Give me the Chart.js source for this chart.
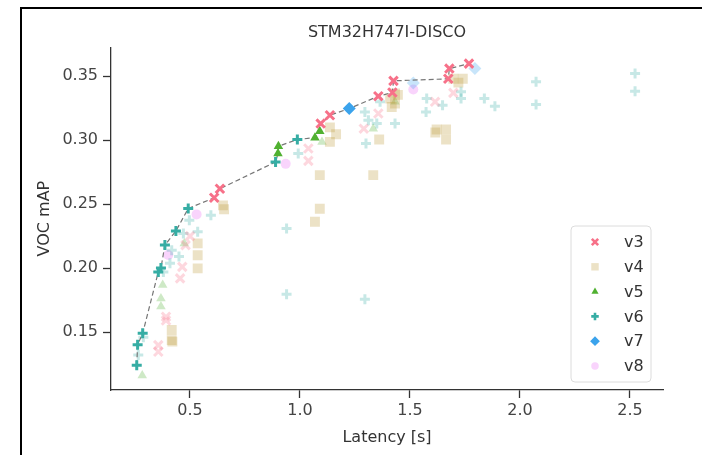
<!DOCTYPE html>
<html>
<head>
<meta charset="utf-8">
<script src="https://cdn.jsdelivr.net/npm/chart.js@4.4.1/dist/chart.umd.min.js"></script>
<style>
  html, body { margin: 0; padding: 0; background: #fff; }
  body { width: 702px; height: 455px; position: relative; overflow: hidden; }
  .frame { position: absolute; left: 20px; top: 7px; width: 760px; height: 520px; border: 2px solid #000; }
  #chart { position: absolute; left: 0; top: 0; }
</style>
</head>
<body>
<div class="frame"></div>
<canvas id="chart" width="702" height="455"></canvas>
<script>
const versions = ['v3', 'v4', 'v5', 'v6', 'v7', 'v8'];
const colors = ['#f77189', '#bb9832', '#50b131', '#36ada4', '#3ba3ec', '#e866f4'];
const markers = ['crossRot', 'rect', 'triangle', 'cross', 'rectRot', 'circle'];

// latency [s] / VOC mAP per model family
const v3Latency = [0.61, 0.636, 1.094, 1.136, 1.356, 1.42, 1.425, 1.679, 1.768,
  0.356, 0.356, 0.391, 0.391, 0.455, 0.465, 0.5, 0.48, 1.038, 1.038, 1.356, 1.29, 1.614, 1.697, 1.674];
const v3Map = [0.255, 0.262, 0.313, 0.3195, 0.3344, 0.3373, 0.3464, 0.356, 0.3599,
  0.1398, 0.1346, 0.162, 0.159, 0.192, 0.201, 0.225, 0.218, 0.2935, 0.2838, 0.3209, 0.309, 0.33, 0.337, 0.348];

const v4Latency = [0.417, 0.417, 0.42, 0.535, 0.535, 0.535, 0.65, 0.655, 1.136, 1.164, 1.136, 1.09, 1.09, 1.068,
  1.333, 1.36, 1.432, 1.432, 1.41, 1.445, 1.417, 1.621, 1.615, 1.664, 1.664, 1.697, 1.74, 1.72];
const v4Map = [0.1516, 0.1437, 0.1425, 0.2193, 0.21, 0.1998, 0.249, 0.246, 0.31, 0.3047, 0.2987, 0.2727, 0.2464, 0.2362,
  0.2727, 0.3005, 0.3365, 0.3287, 0.3326, 0.3354, 0.326, 0.3084, 0.306, 0.3084, 0.3005, 0.348, 0.348, 0.345];

const v5Latency = [0.9, 0.902, 1.068, 1.09, 0.283, 0.376, 0.368, 0.368, 0.474, 1.333, 1.432, 1.1];
const v5Map = [0.2896, 0.2953, 0.302, 0.307, 0.116, 0.1867, 0.1763, 0.17, 0.2193, 0.309, 0.33, 0.2985];

const v6Latency = [0.258, 0.262, 0.285, 0.356, 0.368, 0.386, 0.436, 0.492, 0.889, 0.988,
  0.265, 0.288, 0.379, 0.409, 0.45, 0.497, 0.535, 0.595, 0.47, 0.417, 0.939, 0.939, 1.295, 0.992,
  1.295, 1.311, 1.349, 1.3, 1.364, 1.432, 1.576, 1.573, 1.648, 1.732, 1.732, 1.838, 1.886,
  2.073, 2.073, 2.523, 2.523];
const v6Map = [0.124, 0.14, 0.149, 0.197, 0.2, 0.218, 0.229, 0.2466, 0.283, 0.3005,
  0.132, 0.146, 0.197, 0.2037, 0.209, 0.2375, 0.2284, 0.2414, 0.227, 0.214, 0.231, 0.1795, 0.1756, 0.2896,
  0.3221, 0.3156, 0.313, 0.2974, 0.33, 0.313, 0.3326, 0.3221, 0.3273, 0.3378, 0.3326, 0.3326, 0.3266,
  0.3456, 0.3279, 0.3521, 0.3383];

const v7Latency = [1.224, 1.515, 1.795];
const v7Map = [0.3247, 0.3448, 0.356];

const v8Latency = [0.401, 0.53, 0.935, 1.515];
const v8Map = [0.2102, 0.242, 0.2815, 0.3396];

const xTicks = [0.5, 1.0, 1.5, 2.0, 2.5];
const yTicks = [0.15, 0.20, 0.25, 0.30, 0.35];

const latencies = [v3Latency, v4Latency, v5Latency, v6Latency, v7Latency, v8Latency];
const maps = [v3Map, v4Map, v5Map, v6Map, v7Map, v8Map];

const FONT = '"DejaVu Sans", sans-serif';
const FADE = 0.28;

function rgba(hex, a) {
  const n = parseInt(hex.slice(1), 16);
  return `rgba(${n >> 16}, ${(n >> 8) & 255}, ${n & 255}, ${a})`;
}

// pareto front: points that beat every faster model
const allPts = [];
latencies.forEach((lat, s) => lat.forEach((x, j) => allPts.push({ x, y: maps[s][j], s })));
allPts.sort((a, b) => a.x - b.x || b.y - a.y);
let best = -Infinity;
const front = [];
allPts.forEach(p => {
  if (p.y > best) { best = p.y; p.front = true; front.push(p); }
});
const hasFront = versions.map((v, i) => front.some(p => p.s === i));

function markerStyle(i, alpha, scale) {
  const c = rgba(colors[i], alpha);
  const stroked = markers[i] === 'crossRot' || markers[i] === 'cross';
  const radius = { crossRot: 6, rect: 7, triangle: 5.5, cross: 5, rectRot: 6.5, circle: 5 }[markers[i]];
  return {
    pointStyle: markers[i],
    radius: radius * scale,
    backgroundColor: c,
    borderColor: stroked ? c : 'rgba(0,0,0,0)',
    borderWidth: stroked ? 3 * Math.sqrt(scale) : 0
  };
}

function pointSet(i, onFront) {
  const st = markerStyle(i, onFront ? 1 : FADE, 1);
  return {
    label: versions[i],
    data: allPts.filter(p => p.s === i && !!p.front === onFront).map(p => ({ x: p.x, y: p.y })),
    pointStyle: st.pointStyle,
    pointRadius: st.radius,
    pointBackgroundColor: st.backgroundColor,
    pointBorderColor: st.borderColor,
    pointBorderWidth: st.borderWidth,
    showLine: false,
    order: onFront ? 1 : 3
  };
}

const datasets = [];
versions.forEach((v, i) => datasets.push(pointSet(i, false)));
datasets.push({
  label: 'front',
  data: front.map(p => ({ x: p.x, y: p.y })),
  showLine: true,
  borderColor: '#777',
  borderWidth: 1.2,
  borderDash: [5, 3],
  pointRadius: 0,
  order: 2
});
versions.forEach((v, i) => datasets.push(pointSet(i, true)));

const legendBox = {
  id: 'legendBox',
  afterDraw(chart) {
    const { ctx, chartArea } = chart;
    const w = 80, h = 156, rowH = 24.8;
    const left = chartArea.right - 12 - w;
    const top = chartArea.bottom - 8 - h;
    ctx.save();
    ctx.beginPath();
    ctx.roundRect(left, top, w, h, 4);
    ctx.fillStyle = 'rgba(255,255,255,0.8)';
    ctx.fill();
    ctx.strokeStyle = '#dcdcdc';
    ctx.lineWidth = 1;
    ctx.stroke();
    ctx.textBaseline = 'middle';
    ctx.font = '16px ' + FONT;
    versions.forEach((v, i) => {
      const y = top + 16 + i * rowH;
      const st = markerStyle(i, hasFront[i] ? 1 : FADE, 0.75);
      ctx.fillStyle = st.backgroundColor;
      ctx.strokeStyle = st.borderColor;
      ctx.lineWidth = st.borderWidth;
      Chart.helpers.drawPoint(ctx, { pointStyle: st.pointStyle, radius: st.radius, rotation: 0, borderWidth: st.borderWidth }, left + 24, y);
      ctx.fillStyle = '#333';
      ctx.fillText(v, left + 53, y + 1);
    });
    ctx.restore();
  }
};

new Chart(document.getElementById('chart'), {
  type: 'scatter',
  data: { datasets },
  plugins: [legendBox],
  options: {
    responsive: false,
    animation: false,
    layout: { padding: { left: 21, right: 39, top: 0, bottom: 0 } },
    plugins: {
      legend: { display: false },
      tooltip: { enabled: false },
      title: {
        display: true,
        text: 'STM32H747I-DISCO',
        fullSize: false,
        color: '#333',
        font: { family: FONT, size: 16, weight: 'normal' },
        padding: { top: 23, bottom: 5 }
      }
    },
    scales: {
      x: {
        type: 'linear',
        min: 0.141,
        max: 2.65,
        afterBuildTicks: s => { s.ticks = xTicks.map(value => ({ value })); },
        afterFit: s => { s.height = 65; },
        ticks: { callback: v => v.toFixed(1), color: '#444', font: { family: FONT, size: 16 }, padding: 3, maxRotation: 0 },
        grid: { drawOnChartArea: false, drawTicks: true, tickLength: 8, tickColor: '#333', tickWidth: 1.3 },
        border: { display: true, color: '#333', width: 1.3 },
        title: { display: true, text: 'Latency [s]', color: '#333', font: { family: FONT, size: 16 }, padding: { top: 0, bottom: 8 } }
      },
      y: {
        type: 'linear',
        min: 0.1047,
        max: 0.3727,
        afterBuildTicks: s => { s.ticks = yTicks.map(value => ({ value })); },
        afterFit: s => { s.width = 90; },
        ticks: { callback: v => v.toFixed(2), color: '#444', font: { family: FONT, size: 16 }, padding: 5 },
        grid: { drawOnChartArea: false, drawTicks: true, tickLength: 8, tickColor: '#333', tickWidth: 1.3 },
        border: { display: true, color: '#333', width: 1.3 },
        title: { display: true, text: 'VOC mAP', color: '#333', font: { family: FONT, size: 16 }, padding: { top: 14, bottom: 0 } }
      }
    }
  }
});
</script>
</body>
</html>
